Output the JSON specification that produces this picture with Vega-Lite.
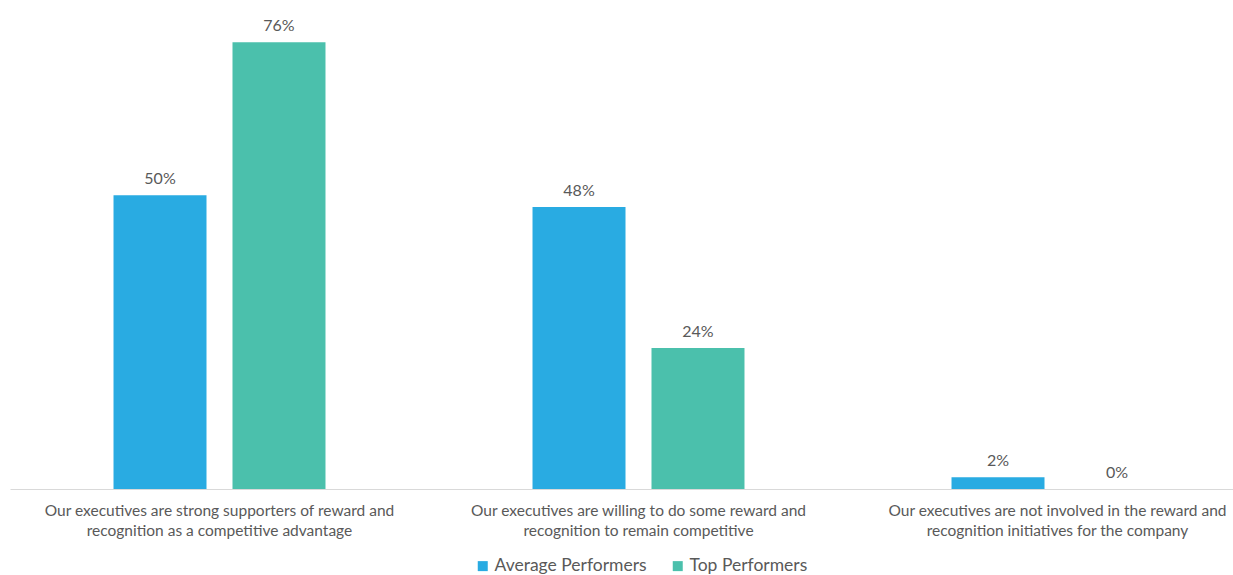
{
  "$schema": "https://vega.github.io/schema/vega-lite/v6.json",
  "autosize": {"type": "none"},
  "width": 1223,
  "height": 489,
  "padding": {"left": 10, "top": 0, "right": 0, "bottom": 86},
  "background": "white",
  "config": {"view": {"stroke": null}, "font": "Lato"},
  "data": {"values": [
    {"statement": "Our executives are strong supporters of reward and recognition as a competitive advantage", "group": "Average Performers", "pct": 0.50},
    {"statement": "Our executives are strong supporters of reward and recognition as a competitive advantage", "group": "Top Performers", "pct": 0.76},
    {"statement": "Our executives are willing to do some reward and recognition to remain competitive", "group": "Average Performers", "pct": 0.48},
    {"statement": "Our executives are willing to do some reward and recognition to remain competitive", "group": "Top Performers", "pct": 0.24},
    {"statement": "Our executives are not involved in the reward and recognition initiatives for the company", "group": "Average Performers", "pct": 0.02},
    {"statement": "Our executives are not involved in the reward and recognition initiatives for the company", "group": "Top Performers", "pct": 0}
  ]},
  "encoding": {
    "x": {
      "field": "statement", "type": "nominal", "sort": null,
      "scale": {"range": [0, 1257], "paddingInner": 0, "paddingOuter": 0},
      "axis": {
        "title": null, "labelAngle": 0, "ticks": false,
        "domainColor": "#d9d9d9", "domainWidth": 1,
        "labelColor": "#595959", "labelFontSize": 15.5, "labelLineHeight": 20,
        "labelPadding": 14, "labelFont": "Lato", "labelLimit": 0,
        "labelExpr": "indexof(datum.value, 'strong') >= 0 ? ['Our executives are strong supporters of reward and', 'recognition as a competitive advantage'] : indexof(datum.value, 'willing') >= 0 ? ['Our executives are willing to do some reward and', 'recognition to remain competitive'] : ['Our executives are not involved in the reward and', 'recognition initiatives for the company']"
      }
    },
    "xOffset": {"field": "group", "type": "nominal", "scale": {"paddingInner": 0.2185, "paddingOuter": 0.87}},
    "y": {"field": "pct", "type": "quantitative", "scale": {"domain": [0, 0.832], "nice": false}, "axis": null}
  },
  "layer": [
    {
      "mark": {"type": "bar"},
      "encoding": {
        "color": {
          "field": "group", "type": "nominal",
          "scale": {"domain": ["Average Performers", "Top Performers"], "range": ["#29abe2", "#4bc0ac"]},
          "legend": {
            "title": null, "orient": "none", "direction": "horizontal",
            "legendX": 464, "legendY": 557,
            "symbolType": "square", "symbolSize": 100, "symbolStrokeWidth": 0,
            "labelFontSize": 17.5, "labelColor": "#595959", "labelFont": "Lato",
            "columnPadding": 22, "labelOffset": 3
          }
        }
      }
    },
    {
      "mark": {"type": "text", "dy": -11, "baseline": "alphabetic", "fontSize": 16, "color": "#595959", "font": "Lato"},
      "encoding": {"text": {"field": "pct", "type": "quantitative", "format": ".0%"}}
    }
  ]
}
